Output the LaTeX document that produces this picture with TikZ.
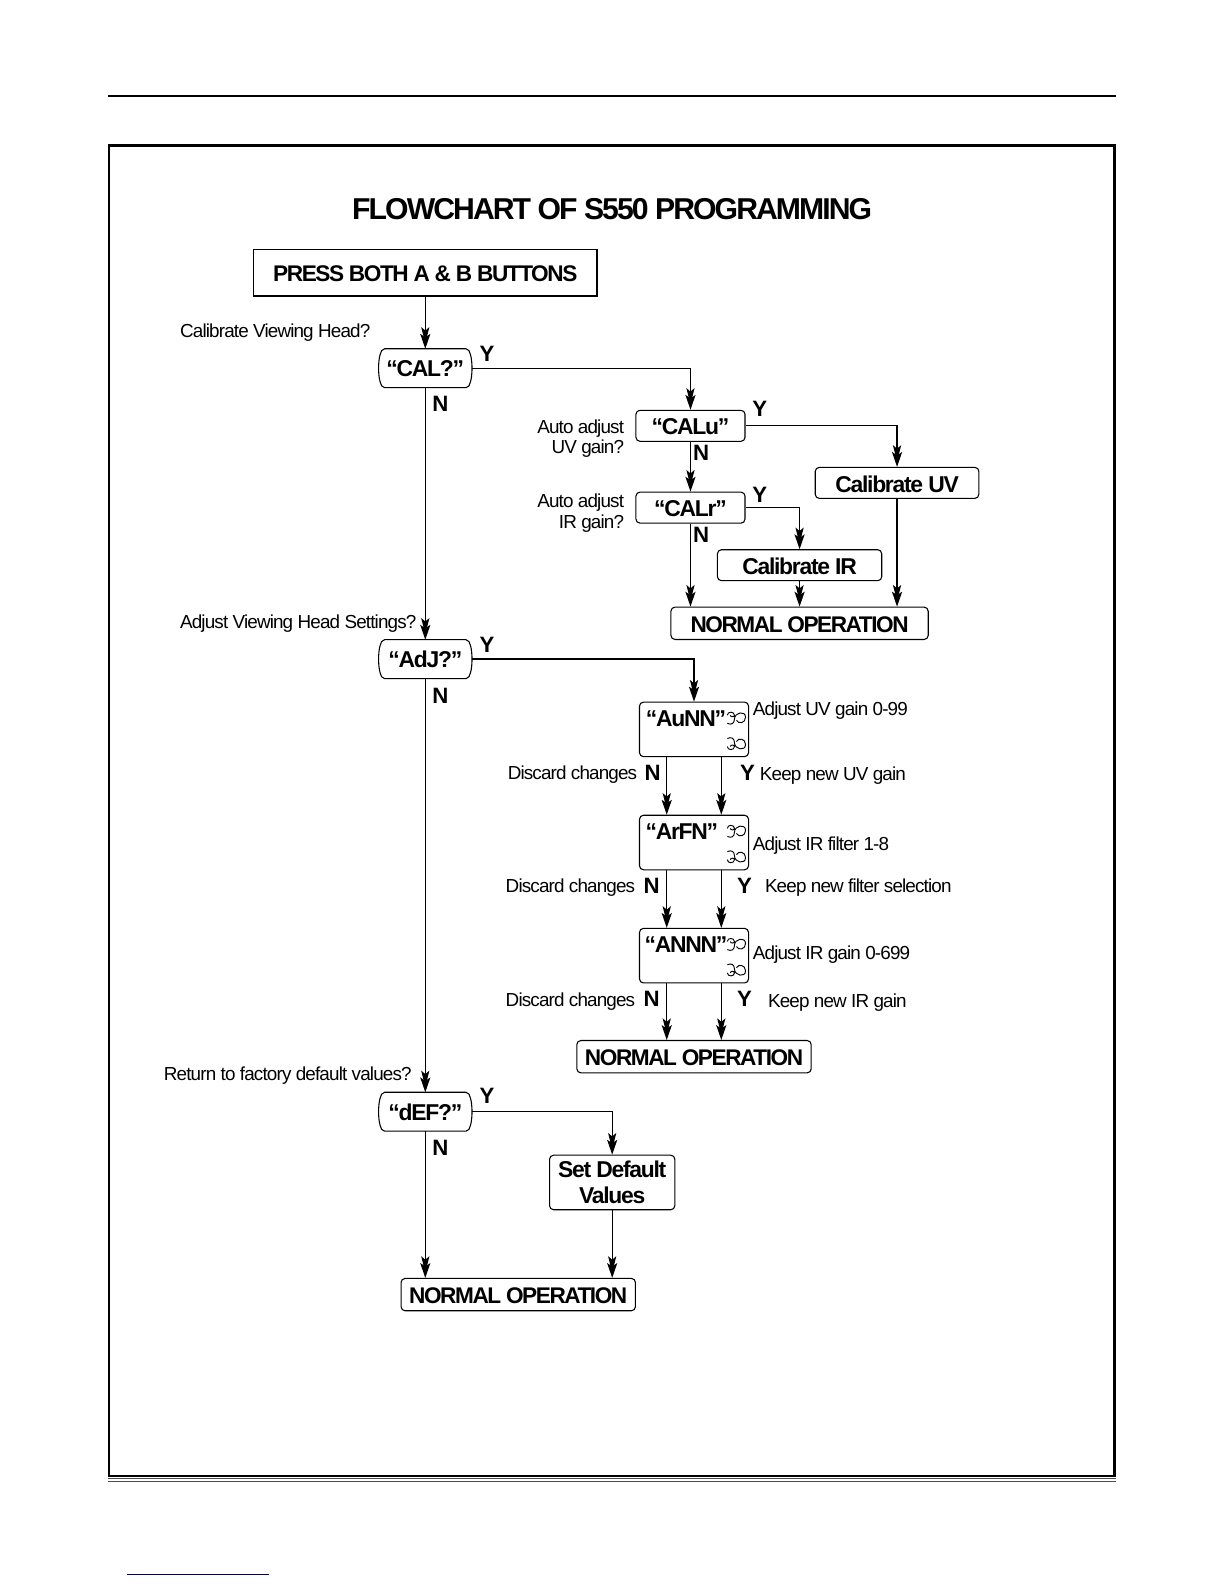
\documentclass[tikz,border=0pt]{standalone}
\usepackage{fontspec}
\setmainfont{Liberation Sans}
\newfontfamily\tightb[LetterSpace=-5.5]{Liberation Sans}
\newfontfamily\tightc[LetterSpace=-6.4]{Liberation Sans}
\newfontfamily\tights[LetterSpace=-4.5]{Liberation Sans}
\usetikzlibrary{arrows.meta}
\newcommand{\bulgeshape}[1]{%
 \draw[line width=0.8pt] ([xshift=6*0.75pt]#1.north west) -- ([xshift=-6*0.75pt]#1.north east)
  .. controls +(3,0) and +(-1,-3) .. ([xshift=-1.5*0.75pt,yshift=-6*0.75pt]#1.north east)
  .. controls +(1,3) and +(0,-4) .. (#1.east)
  .. controls +(0,4) and +(1,-3) .. ([xshift=-1.5*0.75pt,yshift=6*0.75pt]#1.south east)
  .. controls +(-1,3) and +(3,0) .. ([xshift=-6*0.75pt]#1.south east)
  -- ([xshift=6*0.75pt]#1.south west)
  .. controls +(-3,0) and +(1,3) .. ([xshift=1.5*0.75pt,yshift=6*0.75pt]#1.south west)
  .. controls +(-1,-3) and +(0,4) .. (#1.west)
  .. controls +(0,-4) and +(-1,3) .. ([xshift=1.5*0.75pt,yshift=-6*0.75pt]#1.north west)
  .. controls +(1,-3) and +(-3,0) .. cycle;}
\tikzset{
 x=0.75pt,y=-0.75pt,
 arr/.style={draw=black,line width=1pt,-{Stealth[length=12pt,width=6pt,inset=2.5pt,sep=-7pt]Stealth[length=11pt,width=7.5pt,inset=2.5pt]}},
 bulge/.style={rectangle,minimum width=69pt,minimum height=28.5pt,inner sep=0pt,text height=13pt,font=\tightb\fontsize{17}{17}\bfseries},
 rbox/.style={draw=black,line width=0.8pt,rounded corners=3pt,inner sep=0pt,text height=13.7pt,font=\tightb\fontsize{17}{17}\bfseries,align=center},
 capbox/.style={rbox,font=\tightc\fontsize{16.8}{17}\bfseries},
 yn/.style={inner sep=0pt,font=\fontsize{16.5}{16.5}\bfseries},
 small/.style={inner sep=0pt,yshift=-1.5pt,font=\tights\fontsize{14}{15}\selectfont,align=right},
 curlA/.pic={\draw[line width=0.7pt] (-9,-3) .. controls (-9,-7) and (-2,-7) .. (-2,-3) .. controls (-2,-1) and (-6,-1) .. (-6,-3) (-9,5) .. controls (-5,7) and (-2,5) .. (-2,1) .. controls (-2,-6) and (9,-8) .. (9,-1) .. controls (9,5) and (2,6) .. (0,2);},
 curlB/.pic={\draw[line width=0.7pt,yscale=-1] (-9,-3) .. controls (-9,-7) and (-2,-7) .. (-2,-3) .. controls (-2,-1) and (-6,-1) .. (-6,-3) (-9,5) .. controls (-5,7) and (-2,5) .. (-2,1) .. controls (-2,-6) and (9,-8) .. (9,-1) .. controls (9,5) and (2,6) .. (0,2);},
}
\begin{document}
\begin{tikzpicture}
\useasboundingbox (0,0) rectangle (1212,1568);
\draw[line width=0.9pt] (107,95) -- (1105,95);
\draw[line width=1.9pt] (108,144) rectangle (1103.5,1461);
\draw[line width=0.7pt,black!70] (107,1463.7) -- (1105,1463.7);
\draw[line width=0.7pt,black!70] (107,1466) -- (1105,1466);
\draw[line width=0.8pt,color=blue!50!black] (125.5,1559) -- (266,1559);

\node[inner sep=0pt,font=\tightc\fontsize{22.4}{22.4}\bfseries] (title) at (606,207) {FLOWCHART OF S550 PROGRAMMING};
\node[capbox,rounded corners=0pt,minimum width=255pt,minimum height=34.5pt] (press) at (421,270) {PRESS BOTH A \& B BUTTONS};
\node[bulge] (cal) at (421,364.5) {“CAL?”};
\node[bulge] (adj) at (421,652.5) {“AdJ?”};
\node[bulge] (def) at (421,1100.5) {“dEF?”};
\bulgeshape{cal}\bulgeshape{adj}\bulgeshape{def}
\node[rbox,minimum width=81pt,minimum height=23pt] (calu) at (683.5,421.5) {“CALu”};
\node[rbox,minimum width=81pt,minimum height=23pt] (calr) at (683.5,502.5) {“CALr”};
\node[rbox,minimum width=121.5pt,minimum height=23pt] (caluv) at (888,478) {Calibrate UV};
\node[rbox,minimum width=122pt,minimum height=23pt] (calir) at (791.5,559.5) {Calibrate IR};
\node[capbox,minimum width=191pt,minimum height=24pt] (norma) at (791.5,617) {NORMAL OPERATION};
\node[rbox,minimum width=81pt,minimum height=40.5pt] (aunn) at (687,722) {};
\node[rbox,minimum width=81pt,minimum height=40.5pt] (arfn) at (687,834) {};
\node[rbox,minimum width=81pt,minimum height=40.5pt] (annn) at (687,946) {};
\node[inner sep=0pt,font=\tightb\fontsize{17}{17}\bfseries] (taunn) at (679,711) {“AuNN”};
\node[inner sep=0pt,font=\tightb\fontsize{17}{17}\bfseries] (tarfn) at (675,823) {“ArFN”};
\node[inner sep=0pt,font=\tightb\fontsize{17}{17}\bfseries] (tannn) at (679,935) {“ANNN”};
\pic at (729,711) {curlA}; \pic at (729,736) {curlB};
\pic at (729,823) {curlA}; \pic at (729,848) {curlB};
\pic at (729,935) {curlA}; \pic at (729,960) {curlB};
\node[capbox,minimum width=174pt,minimum height=24pt] (normb) at (687,1046) {NORMAL OPERATION};
\node[rbox,minimum width=93pt,minimum height=40.5pt,text height=,font=\tightb\fontsize{17}{19}\bfseries] (setd) at (606,1170.5) {Set Default\\Values};
\node[capbox,minimum width=174pt,minimum height=24pt] (normc) at (513,1281.5) {NORMAL OPERATION};

\coordinate (xl) at (660,0); \coordinate (xr) at (714,0);
\draw[arr] (press) -- (cal);
\draw[arr] (cal) -- (adj);
\draw[arr] (adj) -- (def);
\draw[arr] (def) -- (def |- normc.north);
\draw[arr] (cal.east) -| (calu.north);
\draw[arr] (calu) -- (calr);
\draw[arr] (calu.east) -| (caluv.north);
\draw[arr] (calr.south) -- (calr.south |- norma.north);
\draw[arr] (calr.east) -| (calir.north);
\draw[arr] (calir) -- (norma);
\draw[arr] (caluv.south) -- (caluv.south |- norma.north);
\draw[arr] (adj.east) -| (aunn.north);
\draw[arr] (aunn.south -| xl) -- (arfn.north -| xl);
\draw[arr] (aunn.south -| xr) -- (arfn.north -| xr);
\draw[arr] (arfn.south -| xl) -- (annn.north -| xl);
\draw[arr] (arfn.south -| xr) -- (annn.north -| xr);
\draw[arr] (annn.south -| xl) -- (normb.north -| xl);
\draw[arr] (annn.south -| xr) -- (normb.north -| xr);
\draw[arr] (def.east) -| (setd.north);
\draw[arr] (setd.south) -- (setd.south |- normc.north);

\node[yn] (y1) at (482,350) {Y}; \node[yn] (n1) at (436,399.5) {N};
\node[yn] (y2) at (482,638) {Y}; \node[yn] (n2) at (436,688.5) {N};
\node[yn] (y3) at (482,1085) {Y}; \node[yn] (n3) at (436,1136) {N};
\node[yn] (y4) at (752,405) {Y}; \node[yn] (n4) at (694,448) {N};
\node[yn] (y5) at (752,490) {Y}; \node[yn] (n5) at (694,529) {N};
\node[yn] (n6) at (646,765) {N}; \node[yn] (y6) at (740,765) {Y};
\node[yn] (n7) at (645,877) {N}; \node[yn] (y7) at (737,877) {Y};
\node[yn] (n8) at (645,989) {N}; \node[yn] (y8) at (737,989) {Y};

\node[small,anchor=west] (q1) at (178,327) {Calibrate Viewing Head?};
\node[small,anchor=west] (q2) at (178,615) {Adjust Viewing Head Settings?};
\node[small,anchor=west] (q3) at (162,1063) {Return to factory default values?};
\node[small,anchor=east] (q4) at (618,432) {Auto adjust\\UV gain?};
\node[small,anchor=east] (q5) at (618,506) {Auto adjust\\IR gain?};
\node[small,anchor=west] (a1) at (745,701) {Adjust UV gain 0-99};
\node[small,anchor=west] (a2) at (745,835) {Adjust IR filter 1-8};
\node[small,anchor=west] (a3) at (745,943) {Adjust IR gain 0-699};
\node[small,anchor=east] (d1) at (631,765) {Discard changes};
\node[small,anchor=east] (d2) at (629,877) {Discard changes};
\node[small,anchor=east] (d3) at (629,989) {Discard changes};
\node[small,anchor=west] (k1) at (752,766) {Keep new UV gain};
\node[small,anchor=west] (k2) at (757,877) {Keep new filter selection};
\node[small,anchor=west] (k3) at (760,990) {Keep new IR gain};
\end{tikzpicture}
\end{document}
